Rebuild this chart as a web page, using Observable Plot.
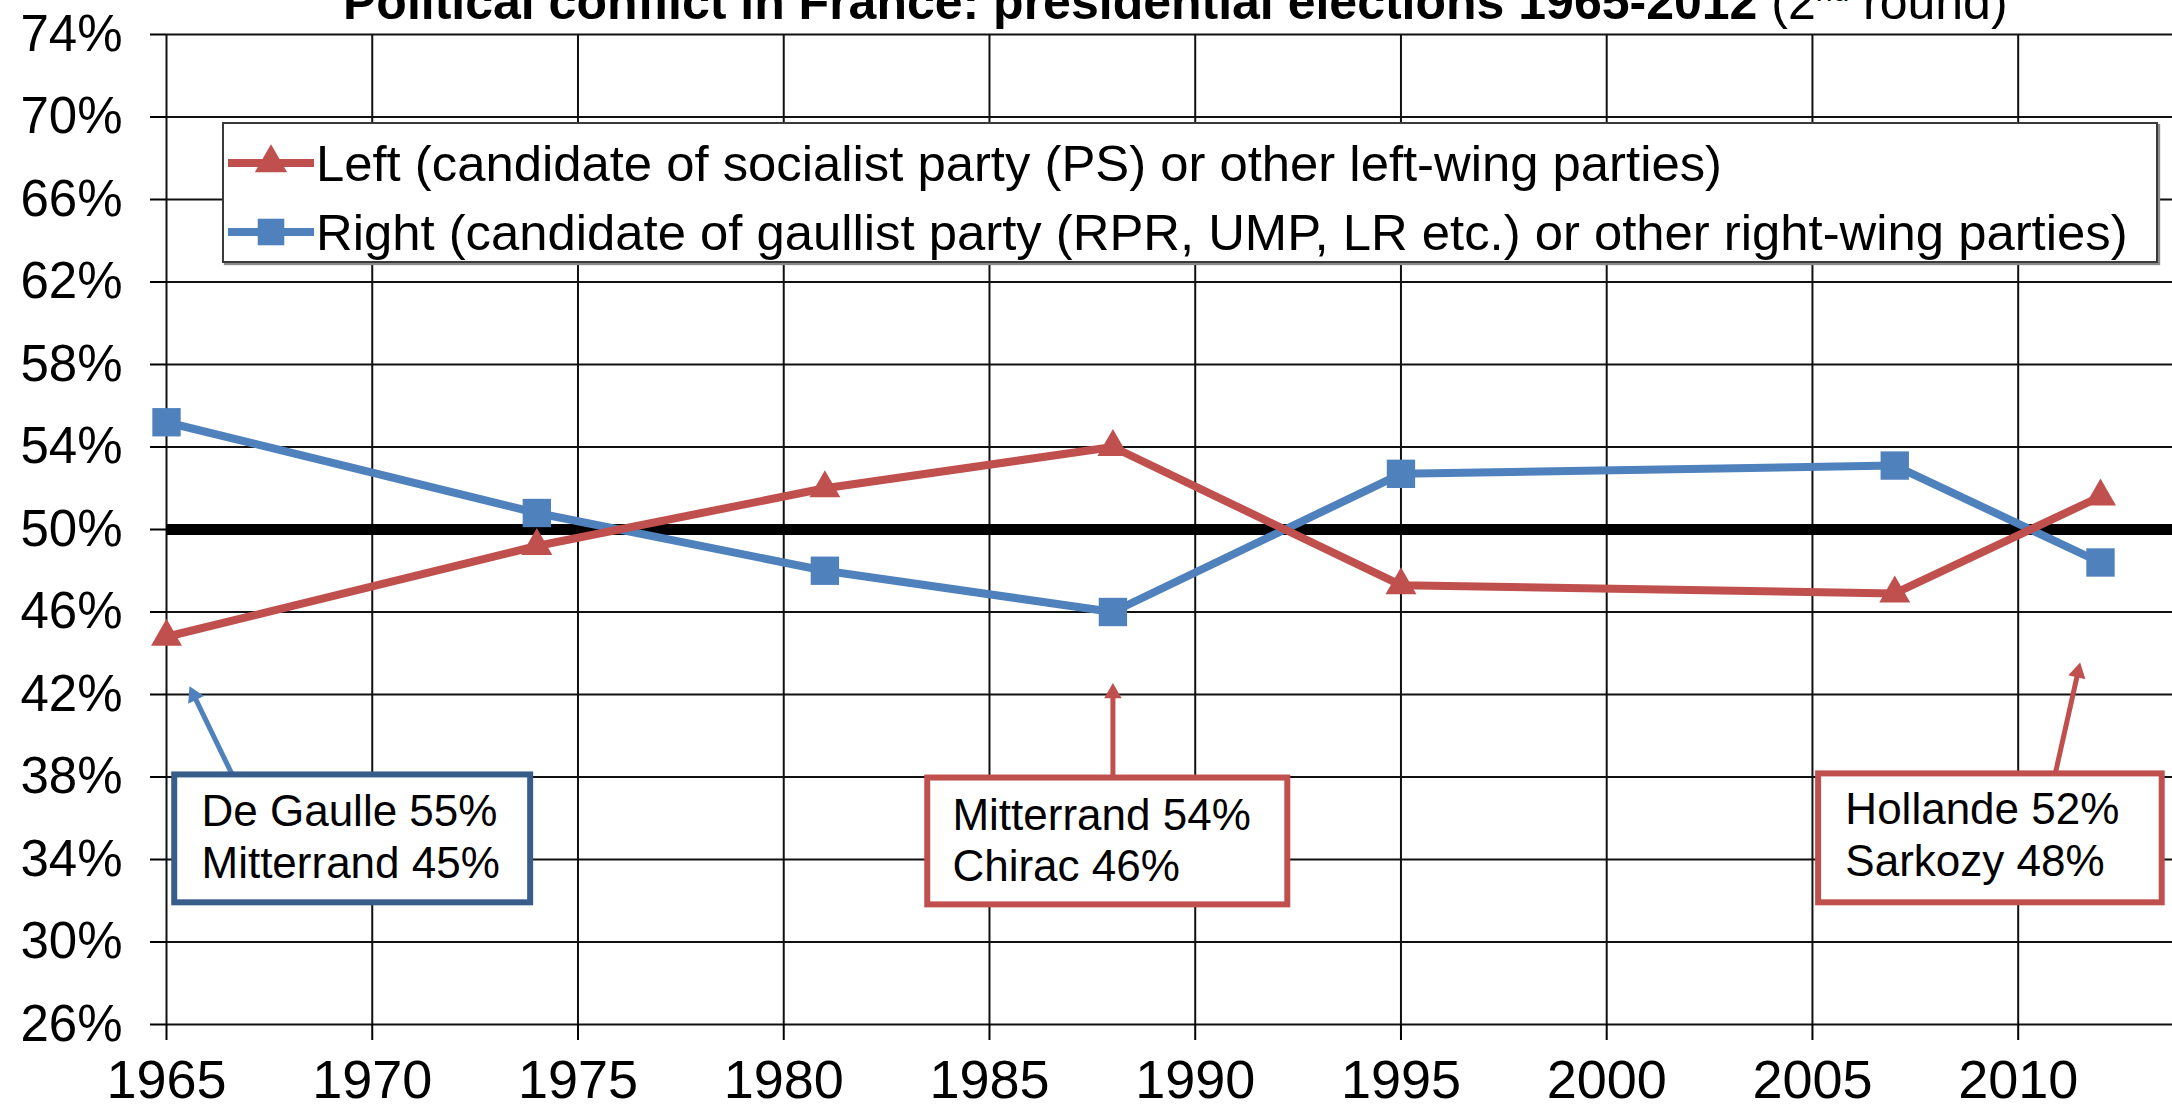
<!DOCTYPE html>
<html>
<head>
<meta charset="utf-8">
<script src="https://cdn.jsdelivr.net/npm/d3@7"></script>
<script src="https://cdn.jsdelivr.net/npm/@observablehq/plot@0.6"></script>
<style>
  html, body { margin: 0; padding: 0; background: #fff; overflow: hidden; }
  #wrap { position: relative; width: 2172px; height: 1108px; font-family: "Liberation Sans", Arial, sans-serif; }
  #title { position: absolute; left: 343px; top: -23px; font-size: 50px; line-height: 50px; white-space: nowrap; color: #000; z-index: 3; }
  #title b { font-weight: bold; }
  #title sup { font-size: 30px; vertical-align: 18px; line-height: 0; }
  #legend { position: absolute; left: 222px; top: 122px; width: 1932px; height: 137px; background: #fff; border: 2px solid #3a3a3a; box-shadow: 2px 2px 1px #8a8a8a; z-index: 2; }
  .row { position: absolute; left: 2px; height: 60px; display: flex; align-items: center; font-size: 50.8px; white-space: nowrap; color: #000; }
  .row svg { margin-right: 2px; }
</style>
</head>
<body>
<div id="wrap">
  <div id="title"><b>Political conflict in France: presidential elections 1965-2012</b> (2<sup>nd</sup> round)</div>
  <div id="legend"></div>
  <div id="chart"></div>
</div>
<script>
// ---- data ----
const years = [1965, 1974, 1981, 1988, 1995, 2007, 2012];
const leftShare = [44.8, 49.2, 52.0, 54.0, 47.3, 46.9, 51.6];
const rightShare = [55.2, 50.8, 48.0, 46.0, 52.7, 53.1, 48.4];
const seriesNames = [
  "Left (candidate of socialist party (PS) or other left-wing parties)",
  "Right (candidate of gaullist party (RPR, UMP, LR etc.) or other right-wing parties)"
];
const xTicks = [1965, 1970, 1975, 1980, 1985, 1990, 1995, 2000, 2005, 2010];
const yTicks = [26, 30, 34, 38, 42, 46, 50, 54, 58, 62, 66, 70, 74];
const threshold = [50];

// annotation texts and their anchors (data units)
const noteLines = [
  ["De Gaulle 55%", "Mitterrand 45%"],
  ["Mitterrand 54%", "Chirac 46%"],
  ["Hollande 52%", "Sarkozy 48%"]
];
const noteBoxX1 = [1965.2, 1983.5, 2005.15];
const noteBoxX2 = [1973.85, 1992.25, 2013.5];
const noteBoxYTop = [38.1, 37.95, 38.15];
const noteBoxYBottom = [31.9, 31.8, 31.9];
const noteTextX = [1965.85, 1984.1, 2005.8];
const noteTextY1 = [36.3, 36.1, 36.4];
const noteTextY2 = [33.8, 33.65, 33.9];
const arrowFromX = [1966.6, 1988, 2010.9];
const arrowFromY = [38.1, 37.95, 38.15];
const arrowToX = [1965.57, 1988, 2011.5];
const arrowToY = [42.35, 42.5, 43.5];

const RED = "#C0504D", BLUE = "#4F81BD";
const boxColors = ["#385D8A", RED, RED];
const arrowColors = [BLUE, RED, RED];

const left = years.map((y, i) => ({year: y, value: leftShare[i]}));
const right = years.map((y, i) => ({year: y, value: rightShare[i]}));
const boxes = noteLines.map((_, i) => ({x1: noteBoxX1[i], x2: noteBoxX2[i], y1: noteBoxYBottom[i], y2: noteBoxYTop[i], color: boxColors[i]}));
const texts = noteLines.flatMap((lines, i) => [
  {x: noteTextX[i], y: noteTextY1[i], text: lines[0]},
  {x: noteTextX[i], y: noteTextY2[i], text: lines[1]}
]);

const base = {
  width: 2172,
  height: 1108,
  marginTop: 34,
  marginLeft: 166,
  marginRight: 0,
  marginBottom: 84,
  style: {fontFamily: "'Liberation Sans', Arial, sans-serif", color: "#000", background: "#fff"},
  x: {domain: [1965, 2013.75]},
  y: {domain: [26, 74]}
};

// first pass: obtain the scales to orient the arrowheads
const probe = Plot.plot({...base, marks: [Plot.gridX(xTicks), Plot.gridY(yTicks)]});
const sx = probe.scale("x"), sy = probe.scale("y");
const HEAD_BACK = 9; // px from apex to centroid of the head triangle
const arrows = noteLines.map((_, i) => {
  const px1 = sx.apply(arrowFromX[i]), py1 = sy.apply(arrowFromY[i]);
  const px2 = sx.apply(arrowToX[i]), py2 = sy.apply(arrowToY[i]);
  const len = Math.hypot(px2 - px1, py2 - py1);
  const ux = (px2 - px1) / len, uy = (py2 - py1) / len;
  const cx = px2 - ux * HEAD_BACK, cy = py2 - uy * HEAD_BACK;
  return {
    x1: arrowFromX[i], y1: arrowFromY[i],
    hx: sx.invert(cx), hy: sy.invert(cy),
    angle: Math.atan2(ux, -uy) * 180 / Math.PI,
    color: arrowColors[i]
  };
});

const chart = Plot.plot({
  ...base,
  marks: [
    Plot.gridX(xTicks, {stroke: "#111", strokeOpacity: 1, strokeWidth: 2}),
    Plot.gridY(yTicks, {stroke: "#111", strokeOpacity: 1, strokeWidth: 2}),
    Plot.axisX(xTicks, {tickSize: 16, tickPadding: 19, fontSize: 54, tickFormat: d => String(d), label: null, strokeWidth: 2}),
    Plot.axisY(yTicks, {tickSize: 16, tickPadding: 28, fontSize: 51, tickFormat: d => d + "%", label: null, strokeWidth: 2}),
    Plot.ruleY(threshold, {stroke: "#000", strokeWidth: 11}),
    Plot.line(right, {x: "year", y: "value", stroke: BLUE, strokeWidth: 8}),
    Plot.line(left, {x: "year", y: "value", stroke: RED, strokeWidth: 8}),
    Plot.dot(right, {x: "year", y: "value", symbol: "square", r: 16, fill: BLUE}),
    Plot.dot(left, {x: "year", y: "value", symbol: "triangle", r: 11.5, fill: RED}),
    Plot.link(arrows, {x1: "x1", y1: "y1", x2: "hx", y2: "hy", stroke: "color", strokeWidth: 5}),
    Plot.dot(arrows, {x: "hx", y: "hy", symbol: "triangle", r: 6.5, fill: "color", rotate: "angle"}),
    Plot.rect(boxes, {x1: "x1", x2: "x2", y1: "y1", y2: "y2", fill: "#fff", stroke: "color", strokeWidth: 6}),
    Plot.text(texts, {x: "x", y: "y", text: "text", textAnchor: "start", fontSize: 44, fill: "#000"})
  ]
});
document.getElementById("chart").appendChild(chart);

// legend
const legend = document.getElementById("legend");
const legendItems = [
  {name: seriesNames[0], color: RED, symbol: d3.symbolTriangle, size: Math.PI * 12 * 12},
  {name: seriesNames[1], color: BLUE, symbol: d3.symbolSquare, size: Math.PI * 15 * 15}
];
const rowTops = [9, 78];
legendItems.forEach((it, i) => {
  const row = document.createElement("div");
  row.className = "row";
  row.style.top = rowTops[i] + "px";
  const sw = d3.create("svg").attr("width", 88).attr("height", 40);
  sw.append("line").attr("x1", 2).attr("x2", 88).attr("y1", 20).attr("y2", 20).attr("stroke", it.color).attr("stroke-width", 8);
  sw.append("path").attr("d", d3.symbol(it.symbol, it.size)()).attr("transform", "translate(45,20)").attr("fill", it.color);
  row.appendChild(sw.node());
  const span = document.createElement("span");
  span.textContent = it.name;
  row.appendChild(span);
  legend.appendChild(row);
});
</script>
</body>
</html>
